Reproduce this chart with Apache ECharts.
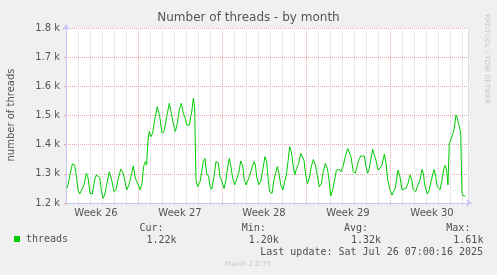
<!DOCTYPE html>
<html>
<head>
<meta charset="utf-8">
<script src="https://cdn.jsdelivr.net/npm/echarts@6/dist/echarts.min.js"></script>
<style>
html,body{margin:0;padding:0;background:#f0f0f0;}
#c{width:497px;height:275px;}
</style>
</head>
<body>
<div id="c"></div>
<script>
// time in days from the left edge of the graph
var days = [0.06,0.17,0.33,0.53,0.72,0.83,1.00,1.14,1.31,1.50,1.69,1.83,2.00,2.19,2.39,2.53,2.69,2.81,2.94,3.08,3.22,3.36,3.47,3.61,3.81,4.00,4.17,4.33,4.56,4.72,4.89,5.06,5.25,5.47,5.61,5.78,5.94,6.19,6.33,6.47,6.61,6.72,6.83,6.94,7.06,7.22,7.39,7.61,7.81,8.00,8.17,8.39,8.61,8.78,8.94,9.11,9.28,9.44,9.61,9.78,9.94,10.06,10.28,10.39,10.50,10.61,10.72,10.83,10.97,11.17,11.31,11.44,11.58,11.72,11.89,12.00,12.14,12.33,12.50,12.69,12.83,13.00,13.17,13.33,13.50,13.61,13.72,13.89,14.06,14.22,14.39,14.56,14.72,14.83,15.00,15.14,15.28,15.44,15.56,15.67,15.78,15.89,16.06,16.22,16.39,16.58,16.72,16.83,16.97,17.17,17.33,17.53,17.61,17.75,17.89,18.08,18.22,18.36,18.50,18.64,18.78,18.92,19.06,19.22,19.39,19.56,19.72,19.83,19.94,20.11,20.28,20.44,20.61,20.78,20.94,21.11,21.28,21.44,21.61,21.78,21.92,22.06,22.22,22.39,22.53,22.64,22.78,22.92,23.06,23.28,23.47,23.61,23.75,23.94,24.11,24.25,24.39,24.56,24.72,24.86,25.00,25.14,25.28,25.39,25.56,25.69,25.83,26.00,26.17,26.33,26.53,26.67,26.81,27.00,27.17,27.28,27.44,27.67,27.83,28.00,28.11,28.31,28.50,28.67,28.78,28.94,29.14,29.33,29.50,29.67,29.78,29.89,30.11,30.28,30.44,30.67,30.81,30.94,31.06,31.17,31.33,31.50,31.61,31.72,31.83,31.94,32.06,32.19,32.33,32.50,32.61,32.78,32.89,33.00,33.11,33.28];
var threads = [1250,1262,1296,1334,1330,1302,1245,1231,1245,1262,1302,1288,1233,1231,1279,1296,1298,1288,1245,1216,1227,1256,1279,1307,1279,1239,1245,1279,1316,1307,1279,1245,1262,1302,1327,1285,1279,1245,1267,1325,1342,1330,1416,1445,1427,1439,1485,1530,1496,1439,1445,1496,1542,1507,1473,1445,1473,1519,1542,1507,1490,1467,1467,1496,1519,1559,1530,1279,1256,1273,1307,1342,1353,1302,1290,1256,1247,1290,1342,1338,1290,1273,1250,1279,1330,1353,1330,1285,1262,1262,1302,1344,1330,1285,1262,1256,1290,1313,1319,1342,1330,1290,1262,1273,1313,1359,1342,1290,1239,1233,1279,1313,1325,1302,1262,1245,1273,1296,1342,1393,1376,1330,1296,1319,1336,1370,1370,1347,1307,1267,1285,1325,1349,1330,1296,1256,1267,1307,1336,1319,1279,1224,1245,1279,1313,1307,1315,1307,1322,1359,1387,1391,1359,1307,1302,1307,1347,1361,1359,1361,1325,1302,1319,1347,1384,1365,1347,1313,1319,1330,1368,1336,1279,1245,1227,1239,1250,1313,1290,1245,1239,1250,1267,1296,1285,1245,1239,1262,1279,1315,1302,1262,1231,1245,1279,1315,1290,1256,1262,1245,1279,1319,1329,1313,1262,1404,1416,1422,1450,1502,1490,1462,1439,1233,1224,1224];
var weekStarts = [6, 13, 20, 27];
var weekMids = [2.5, 9.5, 16.5, 23.5, 30.5];
var weekNames = ['Week 26', 'Week 27', 'Week 28', 'Week 29', 'Week 30'];
var statLabels = ['Cur:', 'Min:', 'Avg:', 'Max:'];
var statValues = ['1.22k', '1.20k', '1.32k', '1.61k'];
var seriesName = 'threads';
var titleText = 'Number of threads - by month';
var yName = 'number of threads';
var lastUpdate = 'Last update: Sat Jul 26 07:00:16 2025';
var footer = 'Munin 2.0.75';
var sideText = 'RRDTOOL / TOBI OETIKER';

var chart = echarts.init(document.getElementById('c'), null, {renderer: 'canvas'});
var mono = '"DejaVu Sans Mono", monospace';
var sans = '"DejaVu Sans", sans-serif';
var points = days.map(function (d, i) { return [d, threads[i]]; });

var graphics = [
  {type: 'text', left: 'center', top: 12, style: {text: titleText, font: '12px ' + sans, fill: '#555'}},
  {type: 'text', x: 11, y: 115, rotation: Math.PI / 2, style: {text: yName, font: '10px ' + sans, fill: '#555', align: 'center', verticalAlign: 'middle'}},
  {type: 'text', x: 487, y: 14, rotation: -Math.PI / 2, style: {text: sideText, font: '7px ' + sans, fill: '#c8c8c8', align: 'left', verticalAlign: 'middle'}},
  {type: 'text', x: 483, y: 252, style: {text: lastUpdate, font: '10px ' + mono, fill: '#505050', align: 'right', verticalAlign: 'middle'}},
  {type: 'text', x: 248, y: 264, style: {text: footer, font: '7px ' + sans, fill: '#c8c8c8', align: 'center', verticalAlign: 'middle'}}
];
statLabels.forEach(function (s, i) {
  graphics.push({type: 'text', x: 163.5 + 102.3 * i, y: 228, style: {text: s, font: '10px ' + mono, fill: '#505050', align: 'right', verticalAlign: 'middle'}});
  graphics.push({type: 'text', x: 176.5 + 102.3 * i, y: 240, style: {text: statValues[i], font: '10px ' + mono, fill: '#505050', align: 'right', verticalAlign: 'middle'}});
});

chart.setOption({
  animation: false,
  backgroundColor: '#f0f0f0',
  graphic: graphics,
  legend: {
    left: 14, top: 234, padding: 0, itemWidth: 6, itemHeight: 6, itemGap: 6,
    icon: 'rect',
    data: [seriesName],
    textStyle: {fontFamily: mono, fontSize: 10, color: '#505050', padding: [0, 0, 0, 1]}
  },
  grid: {left: 66, right: 29, top: 28, bottom: 72, show: true, backgroundColor: '#ffffff', borderWidth: 0},
  xAxis: {
    type: 'value', min: 0, max: 33.5, interval: 1,
    axisLine: {show: true, lineStyle: {color: '#c8c8ff', width: 1}, symbol: ['none', 'arrow'], symbolSize: [6, 6], symbolOffset: [0, 4]},
    axisTick: {show: true, length: 2, inside: false, lineStyle: {color: '#cfcfcf'}},
    axisLabel: {
      customValues: weekMids,
      formatter: function (v) { var i = weekMids.indexOf(v); return i >= 0 ? weekNames[i] : ''; },
      fontFamily: sans, fontSize: 10, color: '#555', margin: 5
    },
    splitLine: {show: true, lineStyle: {color: '#d0d0d0', type: [1, 1], width: 1}}
  },
  yAxis: {
    type: 'value', min: 1200, max: 1800, interval: 100,
    axisLine: {show: true, lineStyle: {color: '#c8c8ff', width: 1}, symbol: ['none', 'arrow'], symbolSize: [6, 6], symbolOffset: [0, 4]},
    axisTick: {show: true, length: 2, lineStyle: {color: '#e8a0a0'}},
    axisLabel: {formatter: function (v) { return (v / 1000).toFixed(1) + ' k'; }, fontFamily: sans, fontSize: 10, color: '#555', margin: 6},
    splitLine: {show: true, lineStyle: {color: '#eaa8a8', type: [1, 1], width: 1}}
  },
  series: [{
    name: seriesName, type: 'line', data: points, showSymbol: false,
    lineStyle: {color: '#00cc00', width: 1},
    itemStyle: {color: '#00cc00'},
    markLine: {
      silent: true, symbol: ['none', 'none'], label: {show: false},
      lineStyle: {color: '#eaa8a8', type: [1, 1], width: 1},
      data: weekStarts.map(function (w) { return {xAxis: w}; })
    },
    z: 5
  }]
});
</script>
</body>
</html>
